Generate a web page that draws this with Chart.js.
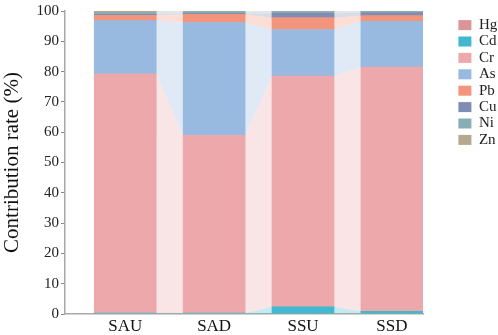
<!DOCTYPE html>
<html>
<head>
<meta charset="utf-8">
<script src="https://cdn.jsdelivr.net/npm/chart.js@4/dist/chart.umd.min.js"></script>
<style>
html,body{margin:0;padding:0;background:#fff;}
canvas{display:block;}
</style>
</head>
<body>
<canvas id="c" width="498" height="335"></canvas>
<script>
const categories = ['SAU', 'SAD', 'SSU', 'SSD'];
const seriesNames = ['Hg', 'Cd', 'Cr', 'As', 'Pb', 'Cu', 'Ni', 'Zn'];
const Hg = [0.0, 0.0, 0.0, 0.0];
const Cd = [0.3, 0.3, 2.4, 0.9];
const Cr = [79.0, 58.7, 76.1, 80.6];
const As = [17.5, 37.2, 15.4, 15.1];
const Pb = [1.8, 2.7, 3.9, 1.9];
const Cu = [0.3, 0.3, 1.4, 1.0];
const Ni = [0.7, 0.6, 0.5, 0.3];
const Zn = [0.4, 0.2, 0.3, 0.2];
const yTicks = [0, 10, 20, 30, 40, 50, 60, 70, 80, 90, 100];

const seriesValues = [Hg, Cd, Cr, As, Pb, Cu, Ni, Zn];
const colors = ['#dc9597', '#3fb8d0', '#eca8aa', '#98b9e0', '#f3957c', '#7f8cb3', '#87aeb5', '#b5a98d'];

function hexToRgba(hex, a) {
  const n = parseInt(hex.slice(1), 16);
  return `rgba(${(n >> 16) & 255},${(n >> 8) & 255},${n & 255},${a})`;
}

const datasets = seriesNames.map((name, k) => ({
  label: name,
  data: seriesValues[k].map((v, i) => ({ x: i, y: v })),
  backgroundColor: colors[k],
  borderWidth: 0,
  barThickness: 62,
  bandColor: hexToRgba(colors[k], 0.3)
}));

const bandPlugin = {
  id: 'bands',
  beforeDatasetsDraw(chart) {
    const ctx = chart.ctx;
    chart.data.datasets.forEach((ds, k) => {
      const meta = chart.getDatasetMeta(k);
      if (meta.hidden) return;
      for (let j = 0; j < meta.data.length - 1; j++) {
        const a = meta.data[j], b = meta.data[j + 1];
        const ax = a.x + a.width / 2, bx = b.x - b.width / 2;
        ctx.save();
        ctx.fillStyle = ds.bandColor;
        ctx.beginPath();
        ctx.moveTo(ax, a.y);
        ctx.lineTo(bx, b.y);
        ctx.lineTo(bx, b.base);
        ctx.lineTo(ax, a.base);
        ctx.closePath();
        ctx.fill();
        ctx.restore();
      }
    });
  }
};

const serif = "'Liberation Serif', 'Times New Roman', serif";

new Chart(document.getElementById('c'), {
  type: 'bar',
  data: { datasets },
  plugins: [bandPlugin],
  options: {
    responsive: false,
    animation: false,
    layout: { padding: { top: 9, right: 0, bottom: 0, left: 0 } },
    plugins: {
      tooltip: { enabled: false },
      legend: {
        position: 'right',
        align: 'start',
        maxWidth: 41,
        title: { display: true, text: ' ', font: { size: 1 }, padding: { top: 6, bottom: 0 } },
        labels: {
          boxWidth: 13,
          boxHeight: 10,
          padding: 1.4,
          color: '#222',
          font: { family: serif, size: 15, lineHeight: 1 }
        }
      }
    },
    scales: {
      x: {
        type: 'linear',
        stacked: true,
        offset: false,
        min: -0.678,
        max: 3.35,
        afterBuildTicks: s => { s.ticks = categories.map((c, i) => ({ value: i })); },
        afterFit: s => { s.height = 21; },
        ticks: {
          callback: v => categories[v],
          color: '#111',
          padding: 2,
          font: { family: serif, size: 17 }
        },
        grid: { display: true, drawOnChartArea: false, drawTicks: false },
        border: { display: true, color: '#a8a8a8', width: 1.5 }
      },
      y: {
        stacked: true,
        min: 0,
        max: 100,
        afterBuildTicks: s => { s.ticks = yTicks.map(v => ({ value: v })); },
        afterFit: s => { s.width = 65; },
        ticks: {
          color: '#222',
          padding: 2,
          font: { family: serif, size: 15 }
        },
        grid: { display: true, drawOnChartArea: false, drawTicks: true, tickLength: 4, color: '#888' },
        border: { display: true, color: '#a8a8a8', width: 1.5 },
        title: {
          display: true,
          text: 'Contribution rate (%)',
          color: '#111',
          font: { family: serif, size: 21 },
          padding: { top: 0, bottom: 0 }
        }
      },
      spacer: {
        type: 'linear',
        position: 'right',
        display: true,
        grid: { display: false },
        border: { display: false },
        ticks: { display: false },
        afterFit: s => { s.width = 34; }
      }
    }
  }
});
</script>
</body>
</html>
